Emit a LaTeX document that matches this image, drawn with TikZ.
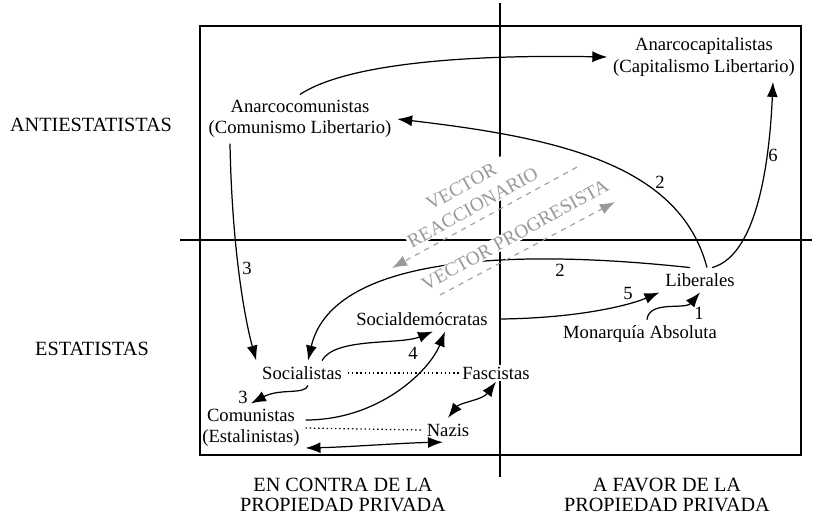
\documentclass[tikz,border=0pt]{standalone}
\usepackage{fontspec}
\setmainfont{Liberation Serif}
\usetikzlibrary{arrows.meta}

\begin{document}
\begin{tikzpicture}[line width=0.7pt,
  arr/.style={-{Latex[length=3mm,width=2.2mm]}},
  darr/.style={{Latex[length=3mm,width=2.2mm]}-{Latex[length=3mm,width=2.2mm]}},
  grupo/.style={inner sep=3pt,font=\fontsize{10.6}{12}\selectfont,align=center},
  eje/.style={font=\fontsize{11.5}{11.5}\selectfont,align=center},
  num/.style={font=\fontsize{10.6}{12}\selectfont,inner sep=1pt},
  punteado/.style={dash pattern=on 0.8pt off 1.6pt},
  vect/.style={draw=black!40,dash pattern=on 3pt off 3pt,-{Latex[length=3mm,width=2.2mm]},line width=0.6pt},
  vtxt/.style={text=black!40,fill=white,inner sep=0.5pt,rotate=29,align=center,font=\fontsize{11}{13.5}\selectfont}]
  \useasboundingbox (-10,-5.58) rectangle (6.28,4.8);
  \draw (-6,-4.3) rectangle (6.02,4.28);
  \draw (-6.4,0) -- (6.24,0);
  \draw (0,-4.74) -- (0,4.74);

  \node[eje] (anti) at (-8.18,2.3) {ANTIESTATISTAS};
  \node[eje] (esta) at (-8.16,-2.18) {ESTATISTAS};
  \node[eje] (contra) at (-3.14,-5.1) {EN CONTRA DE LA\\PROPIEDAD PRIVADA};
  \node[eje] (favor) at (3.34,-5.1) {A FAVOR DE LA\\PROPIEDAD PRIVADA};

  \node[grupo] (anarcap) at (4.08,3.66) {Anarcocapitalistas\\(Capitalismo Libertario)};
  \node[grupo] (anarcom) at (-4.0,2.42) {Anarcocomunistas\\(Comunismo Libertario)};
  \node[grupo] (libe) at (4.0,-0.8) {Liberales};
  \node[grupo] (monar) at (2.8,-1.88) {Monarquía Absoluta};
  \node[grupo] (socd) at (-1.56,-1.58) {Socialdemócratas};
  \node[grupo] (socl) at (-3.96,-2.66) {Socialistas};
  \node[grupo,fill=white,inner sep=1pt] (fasc) at (-0.08,-2.66) {Fascistas};
  \node[grupo] (com) at (-4.98,-3.76) {Comunistas\\(Estalinistas)};
  \node[grupo] (nazis) at (-1.04,-3.8) {Nazis};

  \draw[arr] (anarcom.north) .. controls (-3.2,3.44) and (-1.2,3.72) .. (anarcap.west);
  \draw[arr] ([xshift=0.14cm]libe.north) .. controls (3.6,1.5) and (1.2,2.04) .. (anarcom.east);
  \draw[arr] ([xshift=0.24cm]libe.north) .. controls (5.2,-0.3) and (5.4,1.8) .. ([xshift=1.38cm]anarcap.south);
  \draw[arr] ([xshift=-0.2cm]libe.north) .. controls (-0.4,-0.1) and (-3.4,-0.5) .. ([xshift=0.12cm]socl.north);
  \draw[arr] ([xshift=4pt]socd.east) .. controls (1.6,-1.56) and (2.6,-1.3) .. (libe.south west);
  \draw[arr] ([xshift=0.14cm]monar.north) .. controls (2.98,-1.2) and (3.7,-1.4) .. (libe.south);
  \draw[arr] ([xshift=-1.4cm]anarcom.south) .. controls (-5.36,-0.2) and (-5.1,-1.6) .. (socl.north west);
  \draw[arr] ([xshift=0.4cm]socl.north) .. controls (-3.3,-1.94) and (-2.0,-2.1) .. ([xshift=0.22cm]socd.south);
  \draw[arr] ([xshift=0.12cm]socl.south) .. controls (-3.9,-3.1) and (-4.4,-2.96) .. (com.north);
  \draw[arr] ([yshift=0.16cm]com.east) .. controls (-2.4,-3.6) and (-1.4,-2.6) .. ([xshift=0.46cm]socd.south);
  \draw[darr] (nazis.north) .. controls (-0.8,-3.25) and (-0.35,-3.2) .. (fasc.south);
  \draw[darr] ([yshift=-0.4cm]com.east) .. controls (-3,-4.14) and (-2,-4.06) .. ([xshift=-0.1cm]nazis.south);
  \draw[punteado] (socl.east) -- (fasc.west);
  \draw[punteado] (com.east) -- (nazis.west);

  \node[num] (n2a) at (3.2,1.16) {2};
  \node[num] (n6) at (5.46,1.7) {6};
  \node[num] (n2b) at (1.2,-0.6) {2};
  \node[num] (n5) at (2.56,-1.06) {5};
  \node[num] (n1) at (3.98,-1.46) {1};
  \node[num] (n3a) at (-5.06,-0.56) {3};
  \node[num] (n4) at (-1.74,-2.26) {4};
  \node[num] (n3b) at (-5.14,-3.14) {3};

  \node[vtxt] (reacc) at (-0.66,0.86) {VECTOR\\REACCIONARIO};
  \node[vtxt] (progr) at (0.3,0.1) {VECTOR PROGRESISTA};
  \coordinate (r1) at (1.54,1.46);
  \coordinate (r2) at (-2.16,-0.56);
  \coordinate (p1) at (-1.2,-1.1);
  \coordinate (p2) at (2.3,0.76);
  \draw[vect] (r1) -- (r2);
  \draw[vect] (p1) -- (p2);
\end{tikzpicture}
\end{document}
